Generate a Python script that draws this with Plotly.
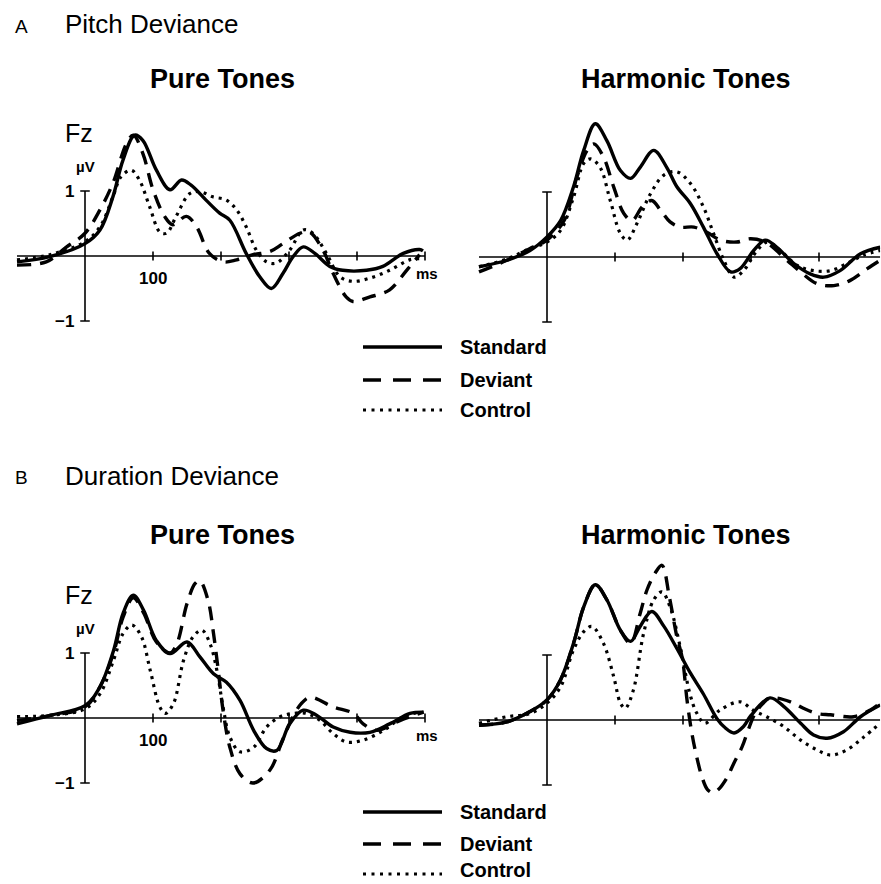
import plotly.graph_objects as go

W, H = 881, 884
PX_PER_MS = 0.68
PX_PER_UV = 65.0

# ---------------- data (time in ms, amplitude in µV) ----------------
# A: Pitch deviance, pure tones
A_pure_std_t = [-100, -52, 0, 22, 41, 56, 73, 85, 105, 125, 142, 156, 178, 198, 213, 237, 257, 274, 291, 306, 321, 338, 360, 379, 414, 438, 468, 492, 497]
A_pure_std_v = [-0.09, -0.01, 0.19, 0.40, 0.91, 1.48, 1.86, 1.78, 1.32, 1.02, 1.17, 1.09, 0.86, 0.66, 0.55, 0.04, -0.32, -0.50, -0.27, -0.01, 0.14, 0.04, -0.16, -0.22, -0.22, -0.16, 0.04, 0.10, 0.08]
A_pure_dev_t = [-100, -57, -27, 0, 22, 41, 61, 71, 85, 100, 117, 129, 149, 164, 183, 203, 223, 247, 272, 291, 316, 330, 350, 365, 384, 394, 419, 448, 473, 492]
A_pure_dev_v = [-0.14, -0.09, 0.14, 0.35, 0.71, 1.12, 1.73, 1.86, 1.58, 1.02, 0.61, 0.48, 0.61, 0.45, 0.04, -0.09, -0.06, 0.02, 0.07, 0.19, 0.35, 0.37, 0.09, -0.27, -0.63, -0.70, -0.63, -0.52, -0.22, 0.02]
A_pure_con_t = [-100, -52, 0, 22, 41, 53, 68, 80, 95, 110, 120, 134, 154, 169, 188, 208, 223, 237, 252, 267, 281, 301, 321, 335, 355, 375, 394, 419, 448, 477, 492]
A_pure_con_v = [-0.06, 0.02, 0.22, 0.45, 0.91, 1.22, 1.32, 1.17, 0.76, 0.37, 0.35, 0.61, 0.96, 0.99, 0.91, 0.86, 0.71, 0.45, 0.09, -0.09, -0.11, 0.09, 0.40, 0.35, 0.04, -0.32, -0.39, -0.34, -0.22, -0.06, -0.04]

# A: Pitch deviance, harmonic tones
A_harm_std_t = [-100, -59, -25, 0, 20, 39, 54, 71, 88, 108, 123, 137, 157, 176, 191, 211, 230, 250, 270, 284, 304, 321, 338, 363, 387, 407, 431, 461, 490]
A_harm_std_v = [-0.15, -0.05, 0.10, 0.31, 0.56, 1.08, 1.64, 2.05, 1.79, 1.33, 1.21, 1.38, 1.64, 1.38, 1.08, 0.82, 0.46, 0.05, -0.23, -0.18, 0.10, 0.26, 0.15, -0.10, -0.26, -0.31, -0.21, 0.05, 0.15]
A_harm_dev_t = [-100, -59, -25, 0, 25, 44, 59, 69, 83, 98, 113, 125, 140, 154, 167, 181, 196, 216, 235, 255, 279, 299, 321, 353, 373, 397, 422, 446, 471, 490]
A_harm_dev_v = [-0.23, -0.05, 0.13, 0.26, 0.56, 1.23, 1.64, 1.74, 1.54, 1.08, 0.67, 0.56, 0.77, 0.87, 0.72, 0.54, 0.46, 0.46, 0.38, 0.26, 0.23, 0.28, 0.23, -0.05, -0.23, -0.41, -0.44, -0.36, -0.18, -0.05]
A_harm_con_t = [-100, -59, -25, 0, 20, 39, 54, 64, 78, 93, 108, 118, 132, 152, 172, 191, 211, 230, 245, 260, 275, 289, 309, 324, 343, 368, 392, 417, 441, 466, 490]
A_harm_con_v = [-0.15, -0.03, 0.13, 0.23, 0.41, 0.92, 1.44, 1.51, 1.38, 0.87, 0.36, 0.26, 0.51, 0.97, 1.26, 1.31, 1.13, 0.77, 0.36, -0.05, -0.31, -0.21, 0.10, 0.23, 0.10, -0.13, -0.21, -0.21, -0.10, 0.03, 0.10]

# B: Duration deviance, pure tones
B_pure_std_t = [-100, -51, 0, 22, 42, 56, 71, 86, 105, 125, 150, 169, 189, 208, 228, 248, 267, 282, 301, 321, 341, 365, 390, 419, 448, 478, 498]
B_pure_std_v = [-0.09, 0.04, 0.19, 0.48, 1.04, 1.61, 1.89, 1.66, 1.19, 0.99, 1.17, 0.94, 0.68, 0.55, 0.27, -0.19, -0.47, -0.50, -0.09, 0.12, 0.04, -0.14, -0.22, -0.22, -0.09, 0.07, 0.09]
B_pure_dev_t = [-100, -51, 0, 22, 42, 56, 71, 86, 105, 125, 135, 150, 162, 169, 181, 189, 196, 203, 213, 228, 247, 272, 290, 305, 318, 331, 365, 395, 409, 429, 463, 498]
B_pure_dev_v = [-0.04, 0.04, 0.17, 0.48, 1.00, 1.55, 1.85, 1.62, 1.17, 1.00, 1.14, 1.76, 2.07, 2.11, 1.81, 1.30, 0.73, 0.12, -0.45, -0.86, -1.00, -0.80, -0.35, 0.00, 0.22, 0.32, 0.17, 0.07, -0.09, -0.19, -0.04, 0.09]
B_pure_con_t = [-100, -51, 0, 22, 42, 56, 69, 83, 96, 110, 118, 130, 145, 159, 172, 184, 194, 203, 213, 228, 248, 267, 287, 306, 326, 346, 365, 385, 409, 439, 468, 493]
B_pure_con_v = [0.02, 0.04, 0.14, 0.37, 0.89, 1.30, 1.43, 1.25, 0.73, 0.17, 0.07, 0.22, 0.89, 1.25, 1.35, 1.14, 0.73, 0.17, -0.29, -0.52, -0.45, -0.14, 0.02, 0.07, 0.07, -0.04, -0.24, -0.37, -0.34, -0.19, 0.02, 0.09]

# B: Duration deviance, harmonic tones
B_harm_std_t = [-100, -59, -25, 0, 20, 39, 54, 71, 88, 108, 123, 137, 154, 172, 191, 211, 230, 250, 262, 275, 289, 300, 328, 348, 373, 392, 412, 436, 461, 490]
B_harm_std_v = [-0.08, -0.03, 0.13, 0.31, 0.62, 1.18, 1.74, 2.08, 1.85, 1.38, 1.21, 1.44, 1.67, 1.44, 1.10, 0.72, 0.40, 0.02, -0.12, -0.20, -0.10, 0.07, 0.34, 0.21, -0.05, -0.23, -0.28, -0.18, 0.05, 0.23]
B_harm_dev_t = [-100, -59, -25, 0, 20, 39, 54, 71, 88, 108, 123, 137, 147, 159, 169, 180, 191, 199, 206, 213, 220, 228, 236, 244, 252, 264, 275, 287, 296, 306, 317, 328, 358, 377, 397, 417, 451, 475, 490]
B_harm_dev_v = [-0.08, -0.03, 0.13, 0.31, 0.62, 1.18, 1.74, 2.08, 1.85, 1.38, 1.18, 1.64, 2.00, 2.26, 2.38, 1.89, 1.28, 0.95, 0.30, -0.20, -0.56, -0.88, -1.07, -1.12, -1.07, -0.90, -0.66, -0.41, -0.15, 0.10, 0.25, 0.34, 0.28, 0.18, 0.10, 0.08, 0.05, 0.15, 0.26]
B_harm_con_t = [-100, -59, -25, 0, 20, 39, 54, 66, 83, 98, 108, 115, 127, 142, 157, 169, 181, 196, 210, 220, 232, 254, 284, 303, 323, 348, 373, 397, 417, 441, 466, 490]
B_harm_con_v = [-0.05, 0.05, 0.10, 0.26, 0.51, 1.08, 1.36, 1.44, 1.18, 0.67, 0.26, 0.18, 0.46, 1.33, 1.85, 1.97, 1.74, 1.12, 0.41, 0.11, -0.05, 0.15, 0.28, 0.15, 0.05, -0.10, -0.31, -0.46, -0.54, -0.46, -0.26, -0.05]

X_TICKS = [100, 200, 300, 400, 500]
Y_TICKS = [-1, 1]
X_LABEL_TICK = 100
SERIES_NAMES = ["Standard", "Deviant", "Control"]

# ---------------- styles ----------------
LINE_STYLES = {
    "Standard": dict(color="black", width=3.4, dash="solid"),
    "Deviant": dict(color="black", width=3.4, dash="14px,9px"),
    "Control": dict(color="black", width=3.2, dash="3px,5px"),
}
FONT = "Arial, Liberation Sans, Helvetica, sans-serif"

panels = [
    dict(x0=85, y0=256, xr=[-110, 520], yr=[-1.3, 2.3], xend=500, labels=True,
         data=[(A_pure_std_t, A_pure_std_v), (A_pure_dev_t, A_pure_dev_v), (A_pure_con_t, A_pure_con_v)]),
    dict(x0=547, y0=257, xr=[-110, 490], yr=[-1.3, 2.3], xend=490, labels=False,
         data=[(A_harm_std_t, A_harm_std_v), (A_harm_dev_t, A_harm_dev_v), (A_harm_con_t, A_harm_con_v)]),
    dict(x0=85, y0=718, xr=[-110, 520], yr=[-1.3, 2.5], xend=500, labels=True,
         data=[(B_pure_std_t, B_pure_std_v), (B_pure_dev_t, B_pure_dev_v), (B_pure_con_t, B_pure_con_v)]),
    dict(x0=547, y0=720, xr=[-110, 490], yr=[-1.3, 2.5], xend=490, labels=False,
         data=[(B_harm_std_t, B_harm_std_v), (B_harm_dev_t, B_harm_dev_v), (B_harm_con_t, B_harm_con_v)]),
]

fig = go.Figure()
layout = dict(width=W, height=H, margin=dict(l=0, r=0, t=0, b=0),
              paper_bgcolor="white", plot_bgcolor="white", showlegend=False)
shapes = []
annotations = []

for i, p in enumerate(panels):
    n = i + 1
    xa = "xaxis" if n == 1 else f"xaxis{n}"
    ya = "yaxis" if n == 1 else f"yaxis{n}"
    xr_ = "x" if n == 1 else f"x{n}"
    yr_ = "y" if n == 1 else f"y{n}"
    left = p["x0"] + p["xr"][0] * PX_PER_MS
    right = p["x0"] + p["xr"][1] * PX_PER_MS
    top = p["y0"] - p["yr"][1] * PX_PER_UV
    bottom = p["y0"] - p["yr"][0] * PX_PER_UV
    layout[xa] = dict(domain=[left / W, min(right / W, 1.0)], range=p["xr"], visible=False,
                      anchor=yr_, fixedrange=True)
    layout[ya] = dict(domain=[(H - bottom) / H, (H - top) / H], range=p["yr"], visible=False,
                      anchor=xr_, fixedrange=True)

    # axes drawn through the panel's data coordinates
    axl = dict(color="black", width=1.6)
    shapes.append(dict(type="line", xref=xr_, yref=yr_, x0=-100, x1=p["xend"], y0=0, y1=0, line=axl))
    shapes.append(dict(type="line", xref=xr_, yref=yr_, x0=0, x1=0, y0=Y_TICKS[0], y1=Y_TICKS[1], line=axl))
    for yt in Y_TICKS:
        shapes.append(dict(type="line", xref=xr_, yref=yr_, x0=-7, x1=7, y0=yt, y1=yt, line=axl))
    for xt in X_TICKS:
        if xt <= p["xend"]:
            shapes.append(dict(type="line", xref=xr_, yref=yr_, x0=xt, x1=xt, y0=-0.07, y1=0.07, line=axl))

    for name, (t, v) in zip(SERIES_NAMES, p["data"]):
        fig.add_trace(go.Scatter(x=t, y=v, mode="lines", name=name, xaxis=xr_, yaxis=yr_,
                                 line=dict(shape="spline", smoothing=1.0, **LINE_STYLES[name]),
                                 hoverinfo="skip"))

    if p["labels"]:
        bf = dict(family=FONT, size=17, color="black")
        annotations += [
            dict(xref=xr_, yref=yr_, x=0, y=1, text="<b>1</b>", showarrow=False,
                 xanchor="right", yanchor="middle", xshift=-9, font=bf),
            dict(xref=xr_, yref=yr_, x=0, y=-1, text="<b>\u22121</b>", showarrow=False,
                 xanchor="right", yanchor="middle", xshift=-9, font=bf),
            dict(xref=xr_, yref=yr_, x=X_LABEL_TICK, y=0, text=f"<b>{X_LABEL_TICK}</b>", showarrow=False,
                 xanchor="center", yanchor="middle", yshift=-22, font=bf),
            dict(xref=xr_, yref=yr_, x=500, y=0, text="<b>ms</b>", showarrow=False,
                 xanchor="left", yanchor="middle", xshift=-11, yshift=-17,
                 font=dict(family=FONT, size=15, color="black")),
            dict(xref=xr_, yref=yr_, x=0, y=1, text="<b>\u00b5V</b>", showarrow=False,
                 xanchor="center", yanchor="middle", xshift=1, yshift=25,
                 font=dict(family=FONT, size=15, color="black")),
            dict(xref=xr_, yref=yr_, x=0, y=1, text="Fz", showarrow=False,
                 xanchor="center", yanchor="middle", xshift=-6, yshift=58,
                 font=dict(family=FONT, size=25, color="black")),
        ]

# ---------------- headings ----------------
def pa(x, y):
    return x / W, 1 - y / H

headers = [
    ("A", 13, 26, 19, False, "left"),
    ("Pitch Deviance", 63, 24, 26, False, "left"),
    ("Pure Tones", 222, 79, 27, True, "center"),
    ("Harmonic Tones", 686, 79, 27, True, "center"),
    ("B", 13, 477, 19, False, "left"),
    ("Duration Deviance", 63, 476, 26, False, "left"),
    ("Pure Tones", 222, 535, 27, True, "center"),
    ("Harmonic Tones", 686, 535, 27, True, "center"),
]
for text, x, y, size, bold, anchor in headers:
    px_, py_ = pa(x, y)
    annotations.append(dict(xref="paper", yref="paper", x=px_, y=py_,
                            text=f"<b>{text}</b>" if bold else text, showarrow=False,
                            xanchor=anchor, yanchor="middle",
                            font=dict(family=FONT, size=size, color="black")))

# ---------------- legends (drawn as keys) ----------------
legend_lines = [[347, 380, 410], [812, 844, 874]]
legend_texts = [[347, 380, 410], [812, 844, 870]]
for rows, trows in zip(legend_lines, legend_texts):
    for name, ry, ty_ in zip(SERIES_NAMES, rows, trows):
        dash = {"Standard": "solid", "Deviant": "18px,12px", "Control": "3px,5.5px"}[name]
        x0p, y0p = pa(363, ry)
        x1p, _ = pa(442, ry)
        shapes.append(dict(type="line", xref="paper", yref="paper", x0=x0p, x1=x1p, y0=y0p, y1=y0p,
                           line=dict(color="black", width=3.6 if name != "Control" else 3.2, dash=dash)))
        tx, ty = pa(458, ty_)
        annotations.append(dict(xref="paper", yref="paper", x=tx, y=ty, text=f"<b>{name}</b>",
                                showarrow=False, xanchor="left", yanchor="middle",
                                font=dict(family=FONT, size=20, color="black")))

layout["shapes"] = shapes
layout["annotations"] = annotations
fig.update_layout(**layout)
fig.write_html("out.html", config={"displayModeBar": False},
               post_script="document.body.style.margin='0';document.body.style.overflow='hidden';")
